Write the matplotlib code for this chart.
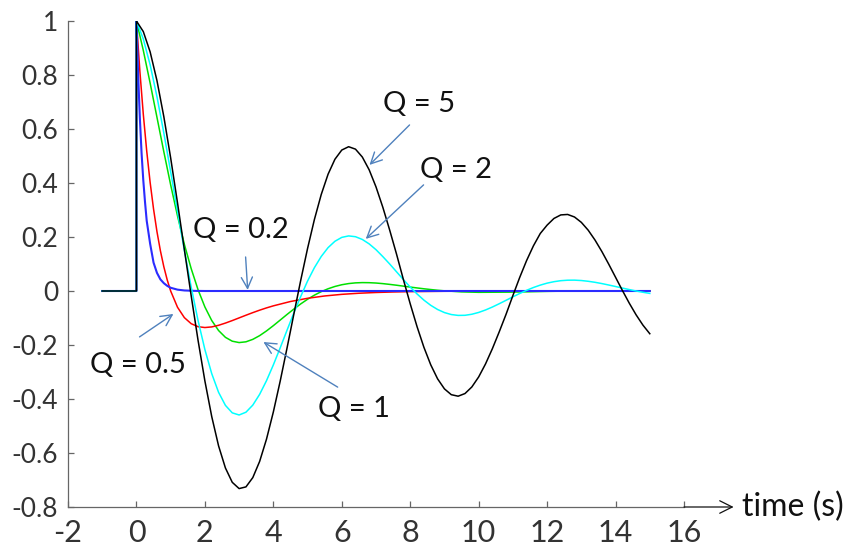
import matplotlib
matplotlib.use("Agg")
import matplotlib.pyplot as plt

plt.rcParams['font.family'] = ['Lato', 'DejaVu Sans']
plt.rcParams['axes.unicode_minus'] = False

# impulse responses, zero before the impulse at t = 0
t_pre = [-1.0, 0.0]
v_pre = [0.0, 0.0]

t_grid = [0.0, 0.2, 0.4, 0.6, 0.8, 1.0, 1.2, 1.4, 1.6, 1.8,
          2.0, 2.2, 2.4, 2.6, 2.8, 3.0, 3.2, 3.4, 3.6, 3.8,
          4.0, 4.2, 4.4, 4.6, 4.8, 5.0, 5.2, 5.4, 5.6, 5.8,
          6.0, 6.2, 6.4, 6.6, 6.8, 7.0, 7.2, 7.4, 7.6, 7.8,
          8.0, 8.2, 8.4, 8.6, 8.8, 9.0, 9.2, 9.4, 9.6, 9.8,
          10.0, 10.2, 10.4, 10.6, 10.8, 11.0, 11.2, 11.4, 11.6, 11.8,
          12.0, 12.2, 12.4, 12.6, 12.8, 13.0, 13.2, 13.4, 13.6, 13.8,
          14.0, 14.2, 14.4, 14.6, 14.8, 15.0]

q5 = [1.0, 0.9609, 0.8857, 0.7789, 0.6458, 0.4927, 0.3264, 0.1538, -0.0180, -0.1824,
      -0.3332, -0.4651, -0.5737, -0.6555, -0.7086, -0.7318, -0.7255, -0.6911, -0.6311, -0.5488,
      -0.4482, -0.3341, -0.2114, -0.0852, 0.0393, 0.1574, 0.2648, 0.3575, 0.4327, 0.4880,
      0.5221, 0.5344, 0.5254, 0.4962, 0.4489, 0.3856, 0.3099, 0.2255, 0.1366, 0.0426,
      -0.0475, -0.1322, -0.2085, -0.2735, -0.3254, -0.3625, -0.3840, -0.3896, -0.3798, -0.3555,
      -0.3183, -0.2702, -0.2138, -0.1515, -0.0864, -0.0169, 0.0505, 0.1126, 0.1673, 0.2130,
      0.2440, 0.2687, 0.2818, 0.2835, 0.2741, 0.2542, 0.2253, 0.1886, 0.1461, 0.0995,
      0.0508, 0.0020, -0.0449, -0.0882, -0.1264, -0.1582]

q2 = [1.0, 0.9334, 0.8378, 0.7195, 0.5852, 0.4414, 0.2946, 0.1505, 0.0145, -0.1092,
      -0.2169, -0.3061, -0.3753, -0.4236, -0.4513, -0.4592, -0.4489, -0.4226, -0.3827, -0.3322,
      -0.2738, -0.2106, -0.1454, -0.0809, -0.0204, 0.0368, 0.0864, 0.1279, 0.1607, 0.1842,
      0.1986, 0.2040, 0.2011, 0.1909, 0.1745, 0.1530, 0.1273, 0.1000, 0.0711, 0.0423,
      0.0146, -0.0110, -0.0338, -0.0531, -0.0685, -0.0799, -0.0872, -0.0904, -0.0900, -0.0861,
      -0.0794, -0.0703, -0.0594, -0.0472, -0.0345, -0.0216, -0.0092, 0.0025, 0.0129, 0.0218,
      0.0291, 0.0345, 0.0382, 0.0400, 0.0402, 0.0388, 0.0360, 0.0322, 0.0275, 0.0222,
      0.0166, 0.0109, 0.0053, 0.0000, -0.0047, -0.0089]

t_q1 = [0.0, 0.2, 0.4, 0.6, 0.8, 1.0, 1.2, 1.4, 1.6, 1.8,
        2.0, 2.2, 2.4, 2.6, 2.8, 3.0, 3.2, 3.4, 3.6, 3.8,
        4.0, 4.2, 4.4, 4.6, 4.8, 5.0, 5.2, 5.4, 5.6, 5.8,
        6.0, 6.2, 6.4, 6.6, 6.8, 7.0, 7.2, 7.4, 7.6, 7.8,
        8.0, 8.2, 8.4, 8.6, 8.8, 9.0,
        9.5, 10.0, 11.0, 12.0, 13.0, 14.0, 15.0]
q1 = [1.0, 0.8913, 0.7701, 0.6430, 0.5158, 0.3929, 0.2782, 0.1729, 0.0827, 0.0049,
      -0.0591, -0.1093, -0.1464, -0.1716, -0.1859, -0.1910, -0.1882, -0.1791, -0.1653, -0.1479,
      -0.1284, -0.1077, -0.0869, -0.0668, -0.0478, -0.0306, -0.0154, -0.0024, 0.0083, 0.0168,
      0.0232, 0.0275, 0.0301, 0.0311, 0.0308, 0.0295, 0.0273, 0.0245, 0.0214, 0.0180,
      0.0146, 0.0113, 0.0082, 0.0054, 0.0028, 0.0007,
      -0.0032, -0.0049, -0.0041, -0.0014, 0.0004, 0.0008, 0.0005]

t_q05 = [0.0, 0.1, 0.2, 0.3, 0.4, 0.5, 0.6, 0.7, 0.8, 0.9, 1.0,
         1.2, 1.4, 1.6, 1.8, 2.0, 2.2, 2.4, 2.6, 2.8, 3.0,
         3.2, 3.4, 3.6, 3.8, 4.0, 4.5, 5.0, 5.5, 6.0, 6.5,
         7.0, 7.5, 8.0, 9.0, 10.0, 12.0, 15.0]
q05 = [1.0, 0.8144, 0.6550, 0.5186, 0.4022, 0.3033, 0.2195, 0.1490, 0.0899, 0.0407, 0.0,
       -0.0602, -0.0986, -0.1211, -0.1322, -0.1353, -0.1330, -0.1270, -0.1188, -0.1095, -0.0996,
       -0.0897, -0.0801, -0.0710, -0.0626, -0.0550, -0.0389, -0.0270, -0.0184, -0.0124, -0.0083,
       -0.0055, -0.0036, -0.0023, -0.0010, -0.0004, -0.0001, 0.0]

t_q02 = [0.0, 0.05, 0.1, 0.15, 0.2, 0.25, 0.3, 0.4, 0.5, 0.6,
         0.7, 0.8, 0.9, 1.0, 1.2, 1.4, 1.7, 2.0, 15.0]
q02 = [1.0, 0.80, 0.64, 0.51, 0.41, 0.33, 0.26, 0.175, 0.105, 0.067,
       0.043, 0.029, 0.019, 0.012, 0.005, 0.002, 0.0005, 0.0, 0.0]

x_ticks = [-2, 0, 2, 4, 6, 8, 10, 12, 14, 16]
y_ticks = [-0.8, -0.6, -0.4, -0.2, 0, 0.2, 0.4, 0.6, 0.8, 1]
y_tick_labels = ['-0.8', '-0.6', '-0.4', '-0.2', '0', '0.2', '0.4', '0.6', '0.8', '1']

fig = plt.figure(figsize=(8.46, 5.48), dpi=100)
ax = fig.add_axes([68 / 846, 1 - 507 / 548, 616 / 846, 486 / 548])

curves = [(t_q1, q1, '#00e000', 1.1),
          (t_q05, q05, '#ff0000', 1.1),
          (t_q02, q02, '#2b2bff', 1.5),
          (t_grid, q2, '#00ffff', 1.1),
          (t_grid, q5, '#000000', 1.1)]
for t, v, c, lw in curves:
    ax.plot(t_pre + t, v_pre + v, color=c, lw=lw)

ax.set_xlim(-2, 16)
ax.set_ylim(-0.8, 1)
ax.set_xticks(x_ticks)
ax.set_yticks(y_ticks)
ax.set_yticklabels(y_tick_labels)
for s in ['top', 'right']:
    ax.spines[s].set_visible(False)
for s in ['left', 'bottom']:
    ax.spines[s].set_color('#666666')
    ax.spines[s].set_linewidth(0.9)
ax.tick_params(direction='in', length=4, width=0.9, color='#666666', labelcolor='#333333')
ax.tick_params(axis='x', labelsize=22, pad=9)
ax.tick_params(axis='y', labelsize=19, pad=7)

# arrow extending the time axis
ax.annotate('', xy=(17.45, -0.8), xytext=(16, -0.8), annotation_clip=False,
            arrowprops=dict(arrowstyle='->,head_length=0.9,head_width=0.45',
                            color='#111111', lw=0.9, shrinkA=0, shrinkB=0))
ax.text(17.7, -0.8, 'time (s)', ha='left', va='center', fontsize=23,
        color='#111111', clip_on=False)

# labels with pointer arrows: (text, text pos, arrow tail, arrow head)
notes = [('Q = 0.2', (3.04, 0.226), (3.19, 0.126), (3.25, 0.004)),
         ('Q = 0.5', (0.03, -0.274), (0.09, -0.170), (1.08, -0.085)),
         ('Q = 1', (6.35, -0.437), (5.88, -0.356), (3.71, -0.189)),
         ('Q = 5', (8.25, 0.693), (7.98, 0.615), (6.81, 0.467)),
         ('Q = 2', (9.33, 0.448), (8.39, 0.393), (6.70, 0.193))]
for label, pos, tail, head in notes:
    ax.text(pos[0], pos[1], label, ha='center', va='center', fontsize=21, color='#111111')
    ax.annotate('', xy=head, xytext=tail,
                arrowprops=dict(arrowstyle='->,head_length=0.8,head_width=0.4',
                                color='#4f81bd', lw=1.0, shrinkA=0, shrinkB=0))

fig.savefig('out.png', dpi=100)
